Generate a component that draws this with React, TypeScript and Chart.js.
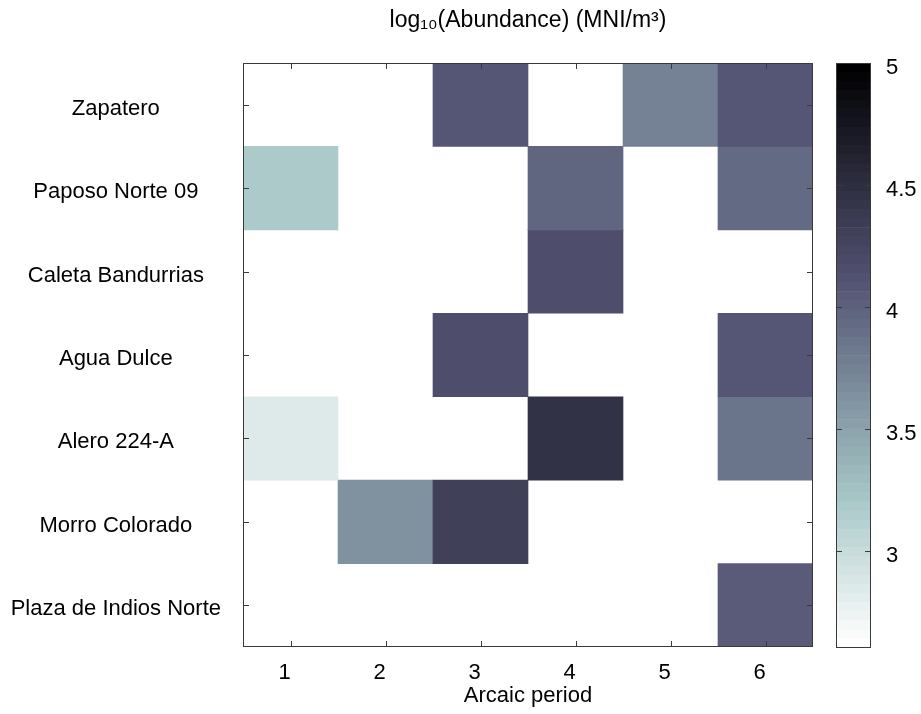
import React, { useEffect, useRef } from "react";
import { Chart, registerables } from "chart.js";
Chart.register(...registerables);

// ---- data ----
const periods = ["1", "2", "3", "4", "5", "6"];
const sites = [
  "Zapatero",
  "Paposo Norte 09",
  "Caleta Bandurrias",
  "Agua Dulce",
  "Alero 224-A",
  "Morro Colorado",
  "Plaza de Indios Norte",
];
// log10(abundance) per period; null = no data
const zapatero = [null, null, 4.07, null, 3.73, 4.08];
const paposoNorte09 = [3.17, null, null, 3.97, null, 3.93];
const caletaBandurrias = [null, null, null, 4.16, null, null];
const aguaDulce = [null, null, 4.17, null, null, 4.1];
const alero224A = [2.84, null, null, 4.46, null, 3.84];
const morroColorado = [null, 3.62, 4.29, null, null, null];
const plazaDeIndiosNorte = [null, null, null, null, null, 4.03];
const rows: (number | null)[][] = [
  zapatero,
  paposoNorte09,
  caletaBandurrias,
  aguaDulce,
  alero224A,
  morroColorado,
  plazaDeIndiosNorte,
];
const colorMin = 2.6;
const colorMax = 5;
const colorbarTicks = [3, 3.5, 4, 4.5, 5];
const titleText = "log\u2081\u2080(Abundance) (MNI/m\u00b3)";
const xTitle = "Arcaic period";

// ---- colormap: flipped MATLAB bone(64) ----
function boneReversed(m = 64): string[] {
  const n = Math.floor((3 / 8) * m);
  const out: string[] = [];
  for (let i = 0; i < m; i++) {
    const gray = i / (m - 1);
    const hr = i < n ? (i + 1) / n : 1;
    const hg = i < n ? 0 : i < 2 * n ? (i - n + 1) / n : 1;
    const hb = i < 2 * n ? 0 : (i - 2 * n + 1) / (m - 2 * n);
    const r = (7 * gray + hb) / 8;
    const g = (7 * gray + hg) / 8;
    const b = (7 * gray + hr) / 8;
    out.push(
      `rgb(${Math.round(r * 255)},${Math.round(g * 255)},${Math.round(b * 255)})`
    );
  }
  return out.reverse();
}
const cmap = boneReversed(64);
function colorFor(v: number): string {
  let idx = Math.floor(((v - colorMin) / (colorMax - colorMin)) * cmap.length);
  idx = Math.max(0, Math.min(cmap.length - 1, idx));
  return cmap[idx];
}

const FONT = "'Liberation Sans', Arial, Helvetica, sans-serif";
const FS = 22;
const TICK = 6;
const EDGE = "#3a3a3a";

const heatFrame = {
  id: "heatFrame",
  afterDatasetsDraw(chart: any) {
    const { ctx, chartArea: a, scales } = chart;
    ctx.save();
    ctx.strokeStyle = EDGE;
    ctx.lineWidth = 1;
    ctx.beginPath();
    scales.x.ticks.forEach((_: any, i: number) => {
      const px = Math.round(scales.x.getPixelForTick(i)) + 0.5;
      ctx.moveTo(px, a.bottom);
      ctx.lineTo(px, a.bottom - TICK);
      ctx.moveTo(px, a.top);
      ctx.lineTo(px, a.top + TICK);
    });
    scales.y.ticks.forEach((t: any) => {
      const py = Math.round(scales.y.getPixelForValue(t.value)) + 0.5;
      ctx.moveTo(a.left, py);
      ctx.lineTo(a.left + TICK, py);
      ctx.moveTo(a.right, py);
      ctx.lineTo(a.right - TICK, py);
    });
    ctx.stroke();
    ctx.strokeRect(
      Math.round(a.left) + 0.5,
      Math.round(a.top) + 0.5,
      Math.round(a.right - a.left) - 1,
      Math.round(a.bottom - a.top) - 1
    );
    ctx.restore();
  },
};

const cbFrame = {
  id: "cbFrame",
  afterDatasetsDraw(chart: any) {
    const { ctx, chartArea: a, scales } = chart;
    ctx.save();
    ctx.strokeStyle = EDGE;
    ctx.lineWidth = 1;
    ctx.beginPath();
    scales.y.ticks.forEach((t: any) => {
      if (t.value >= colorMax || t.value <= colorMin) return;
      const py = Math.round(scales.y.getPixelForValue(t.value)) + 0.5;
      ctx.moveTo(a.left, py);
      ctx.lineTo(a.left + TICK, py);
      ctx.moveTo(a.right, py);
      ctx.lineTo(a.right - TICK, py);
    });
    ctx.stroke();
    ctx.strokeRect(
      Math.round(a.left) + 0.5,
      Math.round(a.top) + 0.5,
      Math.round(a.right - a.left) - 1,
      Math.round(a.bottom - a.top) - 1
    );
    ctx.restore();
  },
};

export default function App() {
  const mainRef = useRef<HTMLCanvasElement>(null);
  const cbRef = useRef<HTMLCanvasElement>(null);

  useEffect(() => {
    Chart.defaults.font.family = FONT;
    Chart.defaults.color = "#000";

    const datasets = rows.map((row, r) => ({
      label: sites[r],
      data: row.map((v) => (v == null ? null : [r + 0.5, r + 1.5])),
      backgroundColor: row.map((v) =>
        v == null ? "rgba(0,0,0,0)" : colorFor(v)
      ),
      borderWidth: 0,
      grouped: false,
      categoryPercentage: 1,
      barPercentage: 1,
    }));

    const main = new Chart(mainRef.current!, {
      type: "bar",
      data: { labels: periods, datasets: datasets as any },
      plugins: [heatFrame],
      options: {
        animation: false,
        responsive: false,
        layout: { padding: { left: 0, right: 17, top: 0, bottom: 0 } },
        plugins: {
          legend: { display: false },
          tooltip: { enabled: false },
          title: {
            display: true,
            text: titleText,
            fullSize: false,
            color: "#000",
            font: { size: 23, weight: "normal", family: FONT },
            padding: { top: 7, bottom: 28.4 },
          },
        },
        scales: {
          x: {
            type: "category",
            offset: true,
            grid: { display: false },
            border: { display: false },
            ticks: { font: { size: FS }, padding: 5, color: "#000", labelOffset: -6 },
            title: {
              display: true,
              text: xTitle,
              font: { size: FS },
              color: "#000",
              padding: { top: 0, bottom: 5 },
            },
            afterFit: (s: any) => {
              s.height = 67;
            },
          },
          y: {
            type: "linear",
            min: 0.5,
            max: 7.5,
            reverse: true,
            grid: { display: false },
            border: { display: false },
            afterBuildTicks: (s: any) => {
              s.ticks = sites.map((_, i) => ({ value: i + 1 }));
            },
            ticks: {
              font: { size: FS },
              color: "#000",
              padding: 14,
              crossAlign: "center",
              labelOffset: 4,
              callback: (v: any) => sites[Math.round(Number(v)) - 1] ?? "",
            },
            afterFit: (s: any) => {
              s.width = 243;
            },
          },
        },
      } as any,
    });

    const step = (colorMax - colorMin) / cmap.length;
    const cbData = cmap.map((c, i) => ({
      data: [[colorMin + i * step, colorMin + (i + 1) * step]],
      backgroundColor: c,
      borderWidth: 0,
      grouped: false,
      categoryPercentage: 1,
      barPercentage: 1,
    }));

    const cb = new Chart(cbRef.current!, {
      type: "bar",
      data: { labels: ["cb"], datasets: cbData as any },
      plugins: [cbFrame],
      options: {
        animation: false,
        responsive: false,
        layout: { padding: { left: 6, right: 0, top: 63, bottom: 66 } },
        plugins: { legend: { display: false }, tooltip: { enabled: false } },
        scales: {
          x: { display: false, offset: true },
          y: {
            type: "linear",
            position: "right",
            min: colorMin,
            max: colorMax,
            grid: { display: false },
            border: { display: false },
            afterBuildTicks: (s: any) => {
              s.ticks = colorbarTicks.map((v) => ({ value: v }));
            },
            ticks: {
              font: { size: FS },
              color: "#000",
              padding: 7,
              labelOffset: 5,
              callback: (v: any) => String(v),
            },
            afterFit: (s: any) => {
              s.width = 50;
            },
          },
        },
      } as any,
    });

    return () => {
      main.destroy();
      cb.destroy();
    };
  }, []);

  return (
    <div
      style={{
        position: "fixed",
        left: 0,
        top: 0,
        width: 921,
        height: 714,
        background: "#fff",
      }}
    >
      <canvas
        ref={mainRef}
        width={830}
        height={714}
        style={{ position: "absolute", left: 0, top: 0, width: 830, height: 714 }}
      />
      <canvas
        ref={cbRef}
        width={91}
        height={714}
        style={{ position: "absolute", left: 830, top: 0, width: 91, height: 714 }}
      />
    </div>
  );
}
